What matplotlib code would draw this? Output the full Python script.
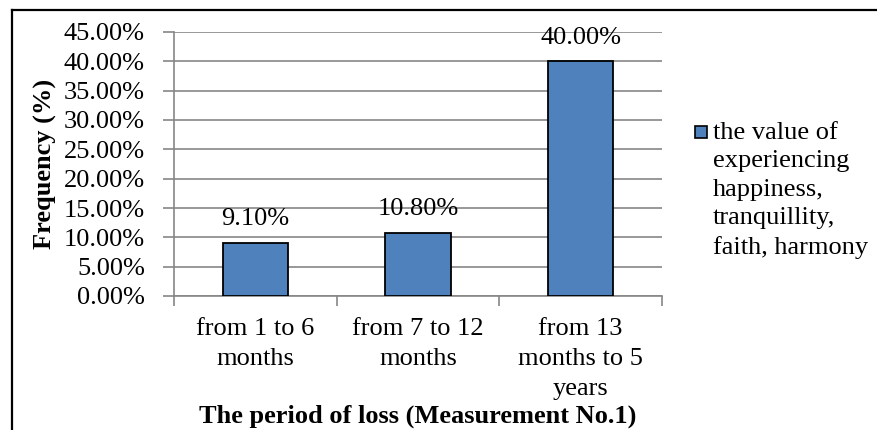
import matplotlib
matplotlib.use("Agg")
import matplotlib.pyplot as plt
from matplotlib.lines import Line2D
from matplotlib.patches import Rectangle
from matplotlib.ticker import FixedLocator, FuncFormatter

# Data
categories = ["from 1 to 6\nmonths", "from 7 to 12\nmonths", "from 13\nmonths to 5\nyears"]
values = [9.10, 10.80, 40.00]
series_name = "the value of\nexperiencing\nhappiness,\ntranquillity,\nfaith, harmony"
y_ticks = [0, 5, 10, 15, 20, 25, 30, 35, 40, 45]
x_title = "The period of loss (Measurement No.1)"
y_title = "Frequency (%)"

plt.rcParams["font.family"] = ["Liberation Serif", "DejaVu Serif"]

W, H = 878, 430
fig = plt.figure(figsize=(W / 100, H / 100), dpi=100)
fig.patch.set_facecolor("white")

# Plot area in pixel coordinates
left, right, top, bottom = 174, 662, 32, 296
ax = fig.add_axes([left / W, 1 - bottom / H, (right - left) / W, (bottom - top) / H])

bar_color = "#4F81BD"
grid_color = "#868686"
fs = 19

x = list(range(len(categories)))
bars = ax.bar(x, values, width=0.4, color=bar_color, edgecolor="black",
              linewidth=1.3, zorder=3)

ax.set_xlim(-0.5, len(categories) - 0.5)
ax.set_ylim(y_ticks[0], y_ticks[-1])

# Y axis: ticks, labels and gridlines
ax.yaxis.set_major_locator(FixedLocator(y_ticks))
ax.yaxis.set_major_formatter(FuncFormatter(lambda v, p: f"{v:.2f}%"))
ax.tick_params(axis="y", direction="out", length=8, width=1.2, color=grid_color,
               labelsize=fs, pad=13)
ax.grid(axis="y", color=grid_color, linewidth=1.2, zorder=0)
ax.set_axisbelow(True)

# X axis: tick marks at category boundaries, labels at category centres
ax.xaxis.set_major_locator(FixedLocator([i - 0.5 for i in range(len(categories) + 1)]))
ax.xaxis.set_major_formatter(FuncFormatter(lambda v, p: ""))
ax.xaxis.set_minor_locator(FixedLocator(x))
ax.xaxis.set_minor_formatter(FuncFormatter(lambda v, p: categories[int(round(v))]))
ax.tick_params(axis="x", which="major", direction="out", length=7, width=1.2,
               color=grid_color)
ax.tick_params(axis="x", which="minor", length=0, labelsize=fs, pad=16)
for lab in ax.xaxis.get_minorticklabels():
    lab.set_linespacing(1.45)
    lab.set_horizontalalignment("center")

for side in ("top", "right"):
    ax.spines[side].set_visible(False)
for side in ("left", "bottom"):
    ax.spines[side].set_color(grid_color)
    ax.spines[side].set_linewidth(1.2)

# Value labels above bars
for xi, v in zip(x, values):
    ax.annotate(f"{v:.2f}%", xy=(xi, v), xytext=(0, 12.5), textcoords="offset points",
                ha="center", va="baseline", fontsize=fs)

# Axis titles
fig.text(418 / W, 1 - 423 / H, x_title, ha="center", va="baseline",
         fontsize=19, fontweight="bold")
fig.text(45 / W, 1 - 164 / H, y_title, ha="center", va="center", rotation=90,
         fontsize=19, fontweight="bold")

# Legend entry
fig.add_artist(Rectangle((695 / W, 1 - 138 / H), 12 / W, 12 / H,
                         transform=fig.transFigure, facecolor=bar_color,
                         edgecolor="black", linewidth=1.2))
fig.text(713 / W, 1 - 122 / H, series_name, ha="left", va="top", fontsize=fs,
         linespacing=1.38)

# Chart frame (top and left edges)
fig.add_artist(Line2D([12 / W, 1], [1 - 10 / H, 1 - 10 / H], transform=fig.transFigure,
                      color="black", linewidth=1.6))
fig.add_artist(Line2D([12 / W, 12 / W], [0, 1 - 10 / H], transform=fig.transFigure,
                      color="black", linewidth=1.6))

fig.savefig("out.png", dpi=100)
